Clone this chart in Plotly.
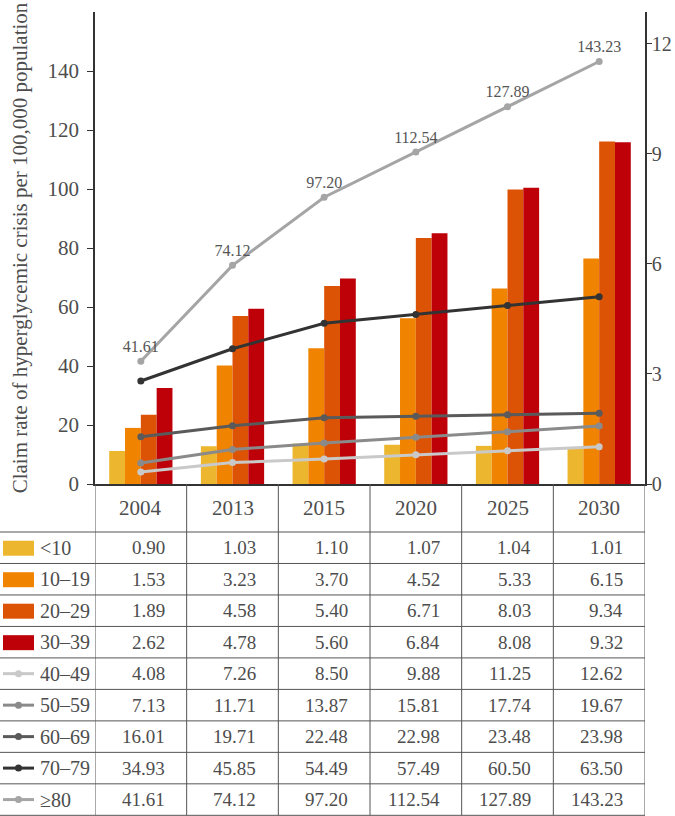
import plotly.graph_objects as go

years = ["2004", "2013", "2015", "2020", "2025", "2030"]

bar_groups = ["<10", "10–19", "20–29", "30–39"]
bar_values = {
    "<10":   [0.90, 1.03, 1.10, 1.07, 1.04, 1.01],
    "10–19": [1.53, 3.23, 3.70, 4.52, 5.33, 6.15],
    "20–29": [1.89, 4.58, 5.40, 6.71, 8.03, 9.34],
    "30–39": [2.62, 4.78, 5.60, 6.84, 8.08, 9.32],
}
bar_colors = {"<10": "#ECB72F", "10–19": "#F08400", "20–29": "#DD5306", "30–39": "#BE0009"}

line_groups = ["40–49", "50–59", "60–69", "70–79", "≥80"]
line_values = {
    "40–49": [4.08, 7.26, 8.50, 9.88, 11.25, 12.62],
    "50–59": [7.13, 11.71, 13.87, 15.81, 17.74, 19.67],
    "60–69": [16.01, 19.71, 22.48, 22.98, 23.48, 23.98],
    "70–79": [34.93, 45.85, 54.49, 57.49, 60.50, 63.50],
    "≥80":   [41.61, 74.12, 97.20, 112.54, 127.89, 143.23],
}
line_colors = {"40–49": "#C9C9C9", "50–59": "#8A8A8A", "60–69": "#5A5A5A",
               "70–79": "#333333", "≥80": "#A5A5A5"}

left_ticks = [0, 20, 40, 60, 80, 100, 120, 140]
right_ticks = [0, 3, 6, 9, 12]

FONT = "Liberation Serif, Times New Roman, serif"
TXT = "#4d4d4d"
GRID = "#555555"

W, H = 675, 816
ML, MR, MT, MB = 95, 30, 12, 332
PW = W - ML - MR
PH = H - MT - MB

def py(px):  # pixel y -> paper y
    return (H - MB - px) / PH

def pxx(px):  # pixel x -> paper x
    return (px - ML) / PW

xs = list(range(len(years)))
fig = go.Figure()

for g in bar_groups:
    fig.add_trace(go.Bar(x=xs, y=bar_values[g], name=g, marker_color=bar_colors[g],
                         marker_line_width=0, yaxis="y", showlegend=False))

for g in line_groups:
    is_top = g == "≥80"
    fig.add_trace(go.Scatter(
        x=xs, y=line_values[g], name=g, yaxis="y2",
        mode="lines+markers+text" if is_top else "lines+markers",
        text=[f"{v:.2f}" for v in line_values[g]] if is_top else None,
        textposition="top center",
        textfont=dict(family=FONT, size=16, color="#555555"),
        line=dict(color=line_colors[g], width=3),
        marker=dict(color=line_colors[g], size=7),
        showlegend=False, cliponaxis=False))

shapes = []
annotations = []

axis_px = H - MB
header_bot = 532
row_h = 31.48
n_rows = len(bar_groups) + len(line_groups)
table_bot = header_bot + row_h * n_rows

for k in range(len(years) + 1):
    shapes.append(dict(type="line", xref="x", yref="paper", x0=k - 0.5, x1=k - 0.5,
                       y0=py(axis_px), y1=py(table_bot), line=dict(color=GRID, width=1)))
for r in range(n_rows + 1):
    yy = header_bot + row_h * r
    shapes.append(dict(type="line", xref="paper", yref="paper", x0=pxx(0), x1=1,
                       y0=py(yy), y1=py(yy), line=dict(color=GRID, width=1)))

for i, yr in enumerate(years):
    annotations.append(dict(x=i, y=py((axis_px + header_bot) / 2), xref="x", yref="paper",
                            text=yr, showarrow=False, xanchor="center", yanchor="middle",
                            font=dict(family=FONT, size=21, color=TXT)))

all_groups = bar_groups + line_groups
all_values = {**bar_values, **line_values}
for r, g in enumerate(all_groups):
    cy = header_bot + row_h * (r + 0.5)
    for i, v in enumerate(all_values[g]):
        annotations.append(dict(x=i + 0.5, y=py(cy), xref="x", yref="paper",
                                text=f"{v:.2f}", showarrow=False, xanchor="right",
                                yanchor="middle", xshift=-20,
                                font=dict(family=FONT, size=19, color=TXT)))
    annotations.append(dict(x=pxx(38), y=py(cy), xref="paper", yref="paper", text=g,
                            showarrow=False, xanchor="left", yanchor="middle",
                            font=dict(family=FONT, size=20, color=TXT)))
    if g in bar_colors:
        shapes.append(dict(type="rect", xref="paper", yref="paper", x0=pxx(3), x1=pxx(34),
                           y0=py(cy + 8), y1=py(cy - 7), fillcolor=bar_colors[g],
                           line=dict(width=0)))
    else:
        c = line_colors[g]
        shapes.append(dict(type="line", xref="paper", yref="paper", x0=pxx(3), x1=pxx(34),
                           y0=py(cy), y1=py(cy), line=dict(color=c, width=3)))
        shapes.append(dict(type="circle", xref="paper", yref="paper", x0=pxx(15), x1=pxx(22),
                           y0=py(cy + 3.5), y1=py(cy - 3.5), fillcolor=c, line=dict(width=0)))

fig.update_layout(
    width=W, height=H,
    margin=dict(l=ML, r=MR, t=MT, b=MB, autoexpand=False),
    paper_bgcolor="white", plot_bgcolor="white",
    barmode="group", bargap=0.31, bargroupgap=0,
    font=dict(family=FONT, size=21, color=TXT),
    xaxis=dict(range=[-0.5, 5.5], showticklabels=False, ticks="", showgrid=False,
               zeroline=False, showline=True, linecolor="#333333", linewidth=1.5,
               automargin=False),
    yaxis=dict(side="right", range=[0, 12.87], tickvals=right_ticks, showgrid=False,
               zeroline=False, showline=True, linecolor="#333333", linewidth=1.5,
               ticks="outside", ticklen=5, tickcolor="#333333", automargin=False,
               ticklabelstandoff=-4,
               tickfont=dict(family=FONT, size=20, color=TXT)),
    yaxis2=dict(side="left", overlaying="y", range=[0, 160], tickvals=left_ticks,
                showgrid=False, zeroline=False, showline=True, linecolor="#333333",
                linewidth=1.5, ticks="outside", ticklen=6, tickcolor="#333333",
                automargin=False, ticklabelstandoff=4,
                tickfont=dict(family=FONT, size=21, color=TXT),
                title=dict(text="Claim rate of hyperglycemic crisis per 100,000 population",
                           font=dict(family=FONT, size=21, color=TXT), standoff=14)),
    shapes=shapes, annotations=annotations,
)

fig.write_html("out.html", config={"displayModeBar": False},
               post_script="document.body.style.margin='0px';document.body.style.overflow='hidden';")
